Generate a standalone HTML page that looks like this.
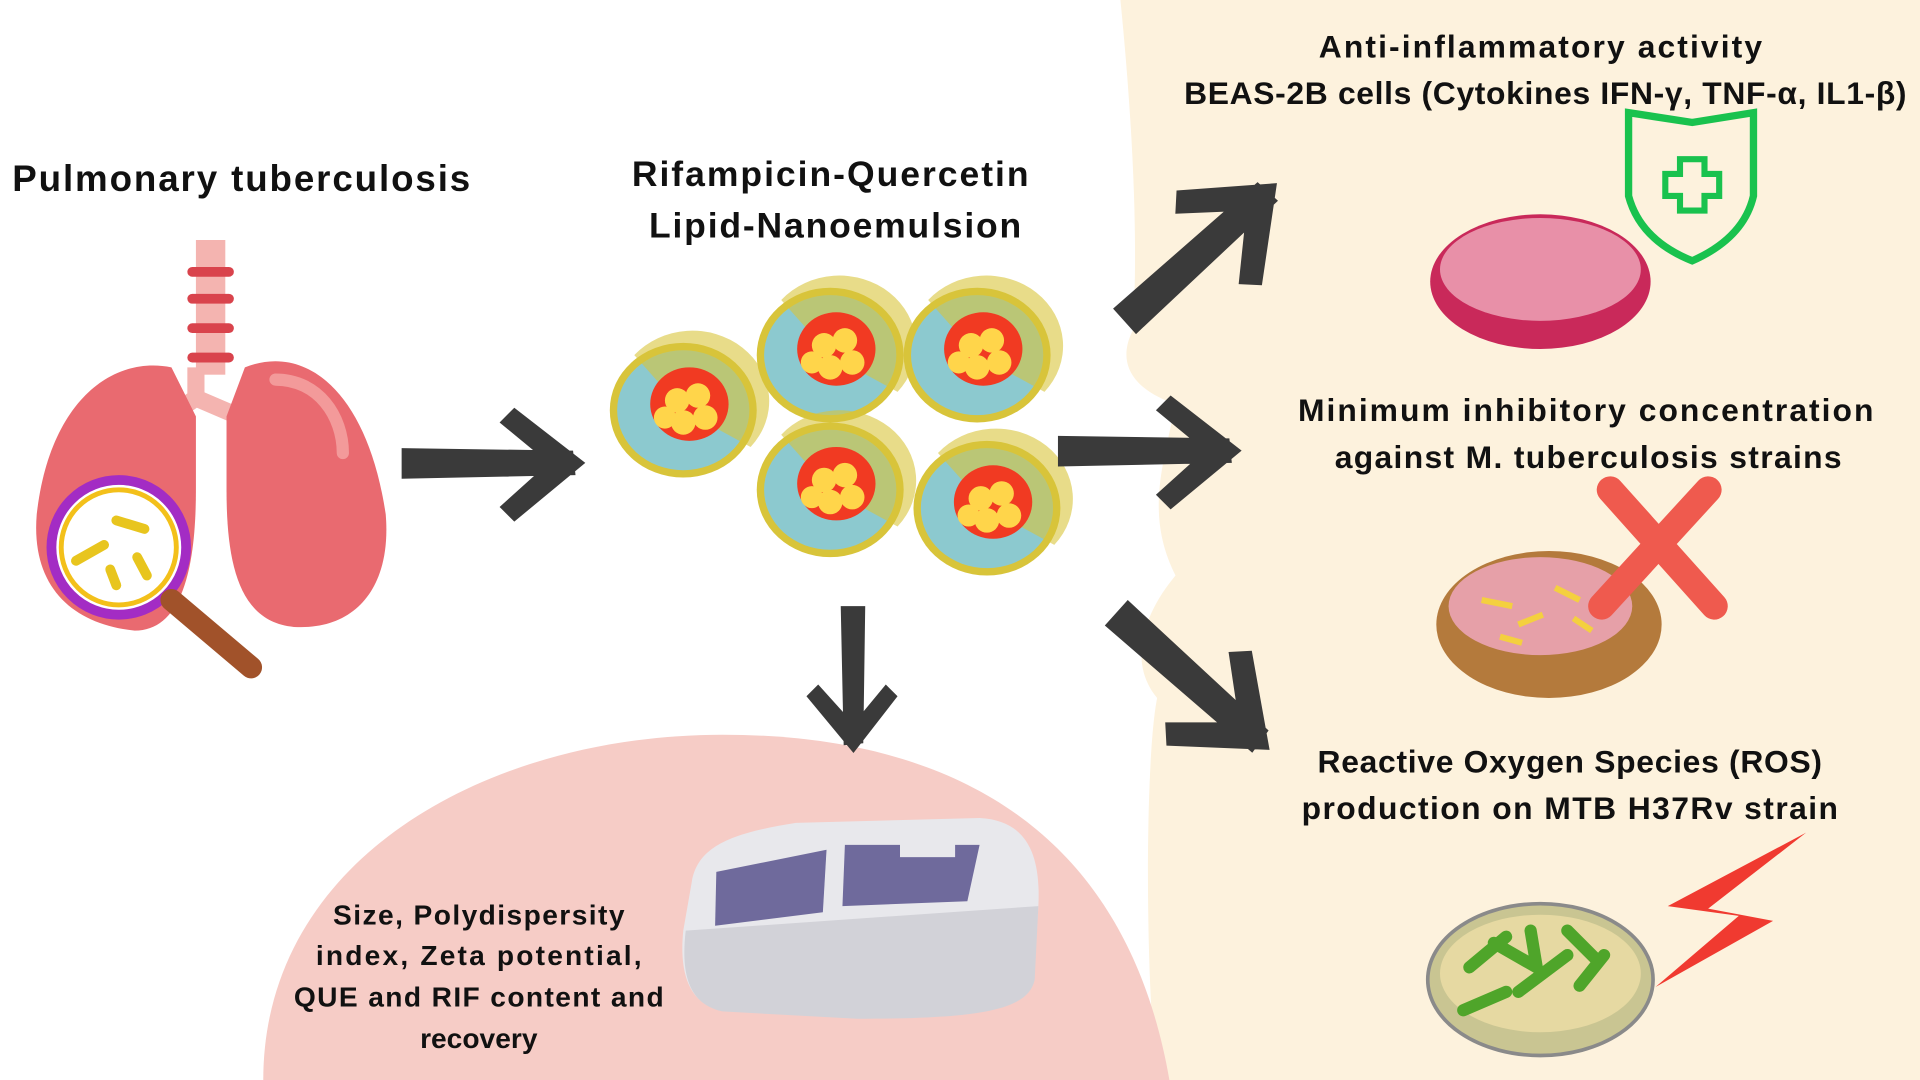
<!DOCTYPE html>
<html><head><meta charset="utf-8"><style>html,body{margin:0;padding:0;background:#fff}svg{display:block}text{font-family:"Liberation Sans",sans-serif;font-weight:bold;fill:#111}</style></head>
<body>
<svg width="1920" height="1080" viewBox="0 0 1568 882" xmlns="http://www.w3.org/2000/svg">
<defs>
<g id="np">
 <ellipse cx="0" cy="0" rx="60" ry="55" fill="#d8c43a"/>
 <ellipse cx="0" cy="0" rx="54" ry="49" fill="#8cc9cf"/>
 <path d="M-40 -45 A60 55 0 0 1 55 30 L0 0Z" fill="#d8c43a" opacity="0.6"/>
 <ellipse cx="5" cy="-5" rx="32" ry="30" fill="#f13a22"/>
 <circle cx="-5" cy="-8" r="10" fill="#ffd54a"/><circle cx="12" cy="-12" r="10" fill="#ffd54a"/>
 <circle cx="0" cy="10" r="10" fill="#ffd54a"/><circle cx="18" cy="6" r="10" fill="#ffd54a"/>
 <circle cx="-15" cy="6" r="9" fill="#ffd54a"/>
</g>
<g id="arr"><path d="M0 -12 L140 -10 L142 10 L0 13Z M92 -45 L150 0 L92 48 L80 36 L120 0 L80 -33Z" fill="#3a3a3a"/></g>
</defs>
<rect width="1568" height="882" fill="#fff"/>
<path d="M915 0 L1568 0 L1568 882 L945 882 C935 800 935 620 945 570 C920 540 935 500 960 470 C935 420 950 380 960 330 C930 320 910 300 925 270 C930 200 925 100 915 0Z" fill="#fdf2dd"/>
<path d="M215 882 C215 700 400 600 590 600 C780 600 920 680 955 882Z" fill="#f6ccc6"/>
<text x="10" y="156" font-size="30" textLength="374">Pulmonary tuberculosis</text>
<text x="678" y="152" font-size="29" text-anchor="middle" textLength="324">Rifampicin-Quercetin</text>
<text x="682" y="194" font-size="29" text-anchor="middle" textLength="304">Lipid-Nanoemulsion</text>
<text x="1258" y="47" font-size="26" text-anchor="middle" textLength="362">Anti-inflammatory activity</text>
<text x="1262" y="85" font-size="26" text-anchor="middle" textLength="590">BEAS-2B cells (Cytokines IFN-γ, TNF-α, IL1-β)</text>
<text x="1295" y="344" font-size="26" text-anchor="middle" textLength="470">Minimum inhibitory concentration</text>
<text x="1297" y="382" font-size="26" text-anchor="middle" textLength="414">against M. tuberculosis strains</text>
<text x="1282" y="631" font-size="26" text-anchor="middle" textLength="412">Reactive Oxygen Species (ROS)</text>
<text x="1282" y="669" font-size="26" text-anchor="middle" textLength="438">production on MTB H37Rv strain</text>
<g font-size="23" text-anchor="middle"><text x="391" y="755" textLength="238">Size,  Polydispersity</text><text x="391" y="788" textLength="266">index,  Zeta potential,</text><text x="391" y="822" textLength="302">QUE and RIF content and</text><text x="391" y="856">recovery</text></g>
<!-- lungs -->
<rect x="160" y="196" width="24" height="110" fill="#f4b4b0"/>
<g fill="#d9434c"><rect x="153" y="218" width="38" height="8" rx="4"/><rect x="153" y="240" width="38" height="8" rx="4"/><rect x="153" y="264" width="38" height="8" rx="4"/><rect x="153" y="288" width="38" height="8" rx="4"/></g>
<path d="M160 300 L160 325 L110 360 M160 325 L195 340" stroke="#f4b4b0" stroke-width="14" fill="none"/>
<path d="M140 300 C90 290 40 330 30 420 C25 480 60 510 110 515 C150 515 160 460 160 400 L160 340Z" fill="#e96a70"/>
<path d="M200 300 C250 280 300 320 315 420 C320 480 290 515 240 512 C195 508 185 460 185 400 L185 340Z" fill="#e96a70"/>
<path d="M225 310 C260 310 280 340 280 370" stroke="#f39a9a" stroke-width="10" fill="none" stroke-linecap="round"/>
<circle cx="97" cy="447" r="55" fill="#fff" stroke="#a32cc4" stroke-width="8"/>
<circle cx="97" cy="447" r="47" fill="none" stroke="#f3c01a" stroke-width="4"/>
<path d="M140 490 L205 545" stroke="#a1522a" stroke-width="18" stroke-linecap="round"/>
<g stroke="#e8c51e" stroke-width="8" stroke-linecap="round"><path d="M62 458 L85 445"/><path d="M95 425 L118 432"/><path d="M112 455 L120 470"/><path d="M90 465 L95 478"/></g>
<!-- nanoparticles -->
<use href="#np" x="558" y="335"/><use href="#np" x="678" y="290"/><use href="#np" x="798" y="290"/><use href="#np" x="678" y="400"/><use href="#np" x="806" y="415"/>
<!-- arrows -->
<use href="#arr" transform="translate(328,378)"/>
<use href="#arr" transform="translate(864,368)"/>
<use href="#arr" transform="translate(918,262) rotate(-42) scale(1.12)"/>
<use href="#arr" transform="translate(912,500) rotate(42) scale(1.12)"/>
<use href="#arr" transform="translate(697,495) rotate(90) scale(0.8)"/>
<!-- dishes -->
<ellipse cx="1258" cy="230" rx="90" ry="55" fill="#c9295a"/><ellipse cx="1258" cy="220" rx="82" ry="42" fill="#e890a8"/>
<path d="M1330 92 L1382 100 L1432 92 L1432 160 C1425 190 1400 205 1382 213 C1362 205 1338 190 1330 160Z" fill="none" stroke="#19c24e" stroke-width="6"/>
<path d="M1372 130 h20 v12 h12 v18 h-12 v12 h-20 v-12 h-12 v-18 h12Z" fill="none" stroke="#19c24e" stroke-width="5"/>
<ellipse cx="1265" cy="510" rx="92" ry="60" fill="#b47a3c"/><ellipse cx="1258" cy="495" rx="75" ry="40" fill="#e6a0a8"/>
<g stroke="#f4d03f" stroke-width="5"><path d="M1210 490 l25 5 M1240 510 l20 -8 M1270 480 l20 10 M1225 520 l18 5 M1285 505 l15 10"/></g>
<path d="M1315 400 L1400 495 M1395 400 L1308 495" stroke="#ef5a4e" stroke-width="22" stroke-linecap="round"/>
<ellipse cx="1258" cy="800" rx="92" ry="62" fill="#c9c592" stroke="#8a8a8a" stroke-width="3"/><ellipse cx="1258" cy="795" rx="82" ry="48" fill="#e6d9a2"/>
<g stroke="#4fa52a" stroke-width="10" stroke-linecap="round"><path d="M1200 790 l30 -25 M1240 810 l40 -30 M1220 770 l35 20 M1280 760 l25 25 M1195 825 l35 -15 M1290 805 l20 -25 M1250 760 l5 30"/></g>
<path d="M1475 680 L1362 740 L1420 748 L1352 806 L1448 752 L1395 742Z" fill="#f03a30"/>
<!-- instrument -->
<path d="M565 720 C570 690 600 680 650 672 L800 668 C840 670 850 700 848 740 L845 790 C840 820 800 830 700 830 L590 825 C560 820 555 790 558 760Z" fill="#e8e8ec"/>
<path d="M560 760 L848 740 L845 800 C840 825 800 832 700 832 L590 826 C562 820 556 795 560 760Z" fill="#d2d2d8"/>
<path d="M585 712 L675 694 L672 745 L584 756Z" fill="#6f6a9c"/>
<path d="M690 690 L800 690 L790 736 L688 740Z" fill="#6f6a9c"/>
<rect x="735" y="688" width="45" height="12" fill="#e8e8ec"/>
</svg>
</body></html>
